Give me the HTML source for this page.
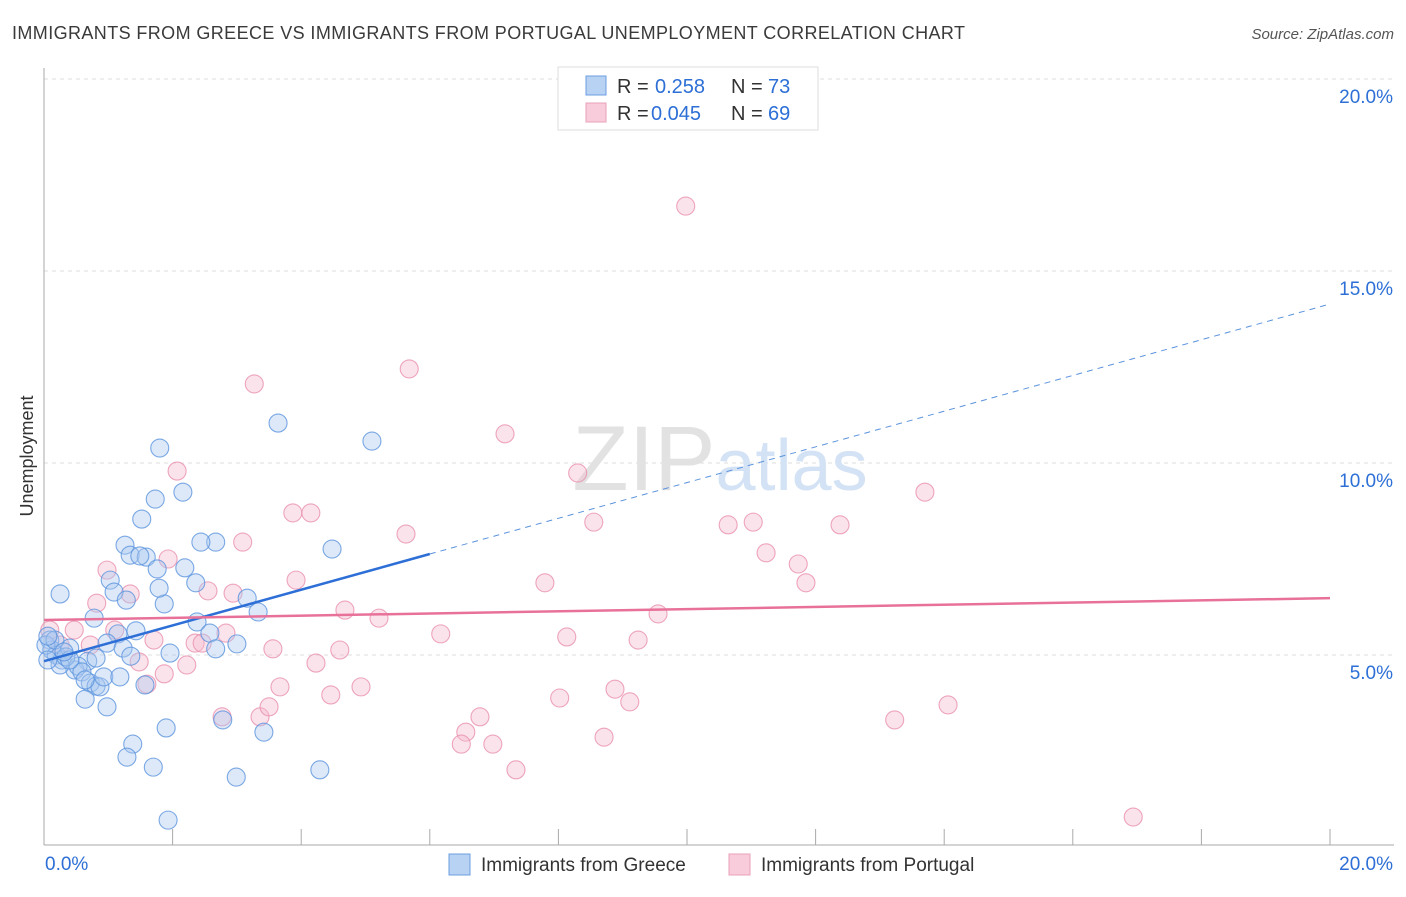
<!DOCTYPE html>
<html><head><meta charset="utf-8"><style>
body{margin:0;background:#fff;font-family:"Liberation Sans",sans-serif;}
svg text{font-family:"Liberation Sans",sans-serif;}
</style></head><body>
<svg id="chart" width="1406" height="892" xmlns="http://www.w3.org/2000/svg">
<text x="12" y="39" font-size="18" fill="#3a3a3a" textLength="953">IMMIGRANTS FROM GREECE VS IMMIGRANTS FROM PORTUGAL UNEMPLOYMENT CORRELATION CHART</text>
<text x="1394" y="39" font-size="15" fill="#555" text-anchor="end" font-style="italic">Source: ZipAtlas.com</text>
<text transform="translate(33,456) rotate(-90)" font-size="18" fill="#333" text-anchor="middle">Unemployment</text>
<g id="grid"></g>
<text x="720" y="490" font-size="92" text-anchor="middle" fill="#e2e2e2" font-family="Liberation Serif">ZIP<tspan fill="#d3e2f4" font-family="Liberation Sans" font-size="72">atlas</tspan></text>
<g id="marks"></g>
<g id="legend">
<rect x="558" y="67" width="260" height="63" fill="#fff" stroke="#ddd"/>
<rect x="586" y="76" width="20" height="19" fill="#b8d2f3" stroke="#6d9fe0"/>
<rect x="586" y="103" width="20" height="19" fill="#f8ccda" stroke="#eaa0ba"/>
<text y="93" font-size="20" fill="#333"><tspan x="617">R =</tspan><tspan x="655" fill="#2d6fd6">0.258</tspan><tspan x="731">N =</tspan><tspan x="768" fill="#2d6fd6">73</tspan></text>
<text y="120" font-size="20" fill="#333"><tspan x="617">R =</tspan><tspan x="651" fill="#2d6fd6">0.045</tspan><tspan x="731">N =</tspan><tspan x="768" fill="#2d6fd6">69</tspan></text>
</g>
<g>
<rect x="449" y="854" width="21" height="21" fill="#b8d2f3" stroke="#6d9fe0"/>
<text x="481" y="871" font-size="19" fill="#333">Immigrants from Greece</text>
<rect x="729" y="854" width="21" height="21" fill="#f8ccda" stroke="#eaa0ba"/>
<text x="761" y="871" font-size="19" fill="#333">Immigrants from Portugal</text>
</g>
</svg>
<script>
const xTicks=[0,20];
const yTicks=[5,10,15,20];
const greeceX=[.25,1.80,3.64,5.10,2.16,1.73,1.52,1.26,2.67,2.44,1.34,1.59,1.49,1.76,2.19,4.48,1.03,2.36,1.09,1.28,1.87,1.79,3.16,3.33,.78,1.43,2.38,1.15,2.58,3.00,.98,1.23,2.67,1.35,1.96,.68,.81,.09,.12,.19,.28,.40,.48,.53,.59,.72,.81,.87,.93,1.18,.64,.25,.34,.64,.98,1.57,2.78,1.90,3.42,1.38,1.29,1.70,2.99,4.29,1.93,.03,.06,.17,.40,.06,.31];
const greeceY=[6.59,10.39,11.04,10.57,9.24,9.06,8.54,7.86,7.94,7.94,7.60,7.55,7.58,7.24,7.27,7.76,6.95,6.88,6.64,6.43,6.33,6.74,6.48,6.12,5.96,5.63,5.86,5.55,5.57,5.29,5.31,5.18,5.16,4.97,5.05,4.84,4.92,5.39,5.13,5.00,4.87,5.18,4.61,4.71,4.56,4.27,4.19,4.17,4.43,4.43,4.35,4.74,4.95,3.85,3.65,4.22,3.31,3.10,2.99,2.68,2.34,2.08,1.82,2.01,.70,5.26,4.87,5.39,4.87,5.49,5.08];
const portugalX=[9.98,5.68,3.27,7.17,8.30,2.07,13.70,3.87,4.15,8.55,5.63,10.64,11.03,12.38,3.09,11.23,1.93,.98,11.73,3.92,7.79,11.85,.82,1.34,2.55,2.94,4.68,5.21,9.55,1.10,.47,1.71,2.35,2.46,6.17,8.13,9.24,.72,3.56,4.60,4.23,1.48,2.22,1.87,1.60,3.67,4.93,4.46,8.02,8.88,9.11,14.06,6.78,13.23,2.77,3.36,3.50,6.56,6.49,6.98,8.71,7.34,16.94,.09,.25,2.83];
const portugalY=[16.69,12.45,12.06,10.76,9.74,9.79,9.24,8.70,8.70,8.46,8.15,8.39,8.46,8.39,7.94,7.66,7.50,7.21,7.37,6.95,6.88,6.88,6.35,6.59,6.67,6.61,6.17,5.96,6.07,5.65,5.65,5.39,5.31,5.31,5.55,5.47,5.39,5.26,5.16,5.13,4.79,4.82,4.74,4.51,4.24,4.17,4.17,3.96,3.88,4.11,3.78,3.70,3.39,3.31,3.39,3.39,3.65,2.99,2.68,2.68,2.86,2.01,.78,5.65,5.26,5.57];
const greeceTrend=[4.84,0.465];
const portugalTrend=[5.91,0.0285];
const X=v=>44+v*64.3, Y=v=>847-v*38.4;
const NS="http://www.w3.org/2000/svg";
function mk(tag,attrs,parent){const e=document.createElementNS(NS,tag);for(const k in attrs)e.setAttribute(k,attrs[k]);parent.appendChild(e);return e;}
const grid=document.getElementById('grid'), marks=document.getElementById('marks');
yTicks.forEach(t=>{
 const l=mk('line',{x1:44,x2:1394,y1:Y(t),y2:Y(t),stroke:'#ddd','stroke-dasharray':'4,4'},grid);
 
 
 const tx=mk('text',{x:1393,y:Y(t)+24,'font-size':19,fill:'#2d6fd6','text-anchor':'end'},grid);
 tx.textContent=t.toFixed(1)+'%';
 
 
});
const ax=mk('line',{x1:44,x2:44,y1:68,y2:845,stroke:'#aaa'},grid);


const bx=mk('line',{x1:44,x2:1394,y1:845,y2:845,stroke:'#aaa'},grid);


for(let i=0;i<=10;i++){const l=mk('line',{x1:X(i*2),x2:X(i*2),y1:829,y2:845,stroke:'#aaa'},grid);
 
 }
xTicks.forEach((t,i)=>{const tx=mk('text',{x:i?1393:45,y:870,'font-size':19,fill:'#2d6fd6','text-anchor':i?'end':'start'},grid);
 tx.textContent=t.toFixed(1)+'%';
 
 });
function dots(xs,ys,fill,stroke,name){xs.forEach((x,i)=>{const c=mk('circle',{cx:X(x),cy:Y(ys[i]),r:9,fill:fill,'fill-opacity':0.4,stroke:stroke,'stroke-opacity':0.8,'stroke-width':1.1},marks);
 
 });}
dots(portugalX,portugalY,'#f6b8cc','#e890ae','point-portugal');
dots(greeceX,greeceY,'#a9c8f0','#5b93dd','point-greece');
const gy=x=>greeceTrend[0]+greeceTrend[1]*x, py=x=>portugalTrend[0]+portugalTrend[1]*x;
const t1=mk('line',{x1:X(0),y1:Y(gy(0)),x2:X(6),y2:Y(gy(6)),stroke:'#2d6fd6','stroke-width':2.5},marks);


const t2=mk('line',{x1:X(6),y1:Y(gy(6)),x2:X(20),y2:Y(gy(20)),stroke:'#5b93dd','stroke-width':1,'stroke-dasharray':'6,5'},marks);


const t3=mk('line',{x1:X(0),y1:Y(py(0)),x2:X(20),y2:Y(py(20)),stroke:'#e8719a','stroke-width':2.5},marks);


</script>
</body></html>
